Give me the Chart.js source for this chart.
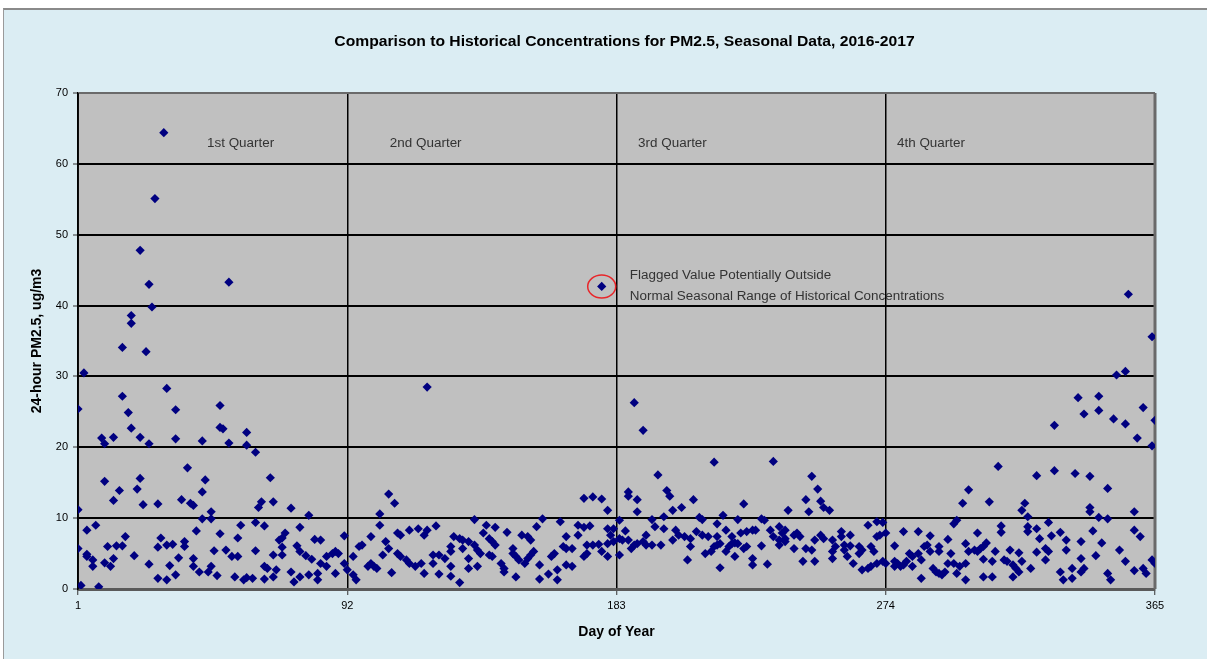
<!DOCTYPE html>
<html><head><meta charset="utf-8">
<script src="https://cdn.jsdelivr.net/npm/chart.js@4/dist/chart.umd.min.js"></script>
<style>
html,body{margin:0;padding:0;background:#fff;width:1207px;height:659px;overflow:hidden}
#frame{position:absolute;left:3px;top:8px;width:1210px;height:660px;background:#dbedf3;border-left:1px solid #9a9a9a;border-top:2px solid #8a8a8a}
#wrap{position:absolute;left:0;top:0;width:1207px;height:659px}
</style></head><body>
<div id="frame"></div>
<div id="wrap"><canvas id="c" width="1207" height="659"></canvas></div>
<script>
// ---- data: [day of year, 24-hour PM2.5 ug/m3] ----
const q1 = [[1,11.2],[1,25.4],[1,5.7],[2,0.5],[3,30.5],[4,8.3],[4,4.9],[4,4.6],[6,4.1],[6,3.2],[7,9.0],[8,0.3],[9,21.3],[10,20.5],[10,15.2],[10,3.7],[11,6.0],[12,3.2],[13,21.4],[13,12.5],[13,4.3],[14,6.1],[15,13.9],[16,34.1],[16,27.2],[16,6.1],[17,7.4],[18,24.9],[19,38.6],[19,37.5],[19,22.7],[20,4.7],[21,14.1],[22,47.8],[22,21.4],[22,15.6],[23,11.9],[24,33.5],[25,43.0],[25,20.5],[25,3.5],[26,39.8],[27,55.1],[28,12.0],[28,5.9],[28,1.5],[29,7.2],[30,64.4],[31,28.3],[31,6.2],[31,1.3],[32,3.3],[33,6.3],[34,25.3],[34,21.2],[34,2.0],[35,4.4],[36,12.6],[37,6.7],[37,6.0],[38,17.1],[39,12.1],[40,11.8],[40,4.3],[40,3.2],[41,8.2],[42,2.4],[43,20.9],[43,13.7],[43,9.9],[44,15.4],[45,2.4],[46,10.9],[46,9.9],[46,3.2],[47,5.4],[48,1.9],[49,25.9],[49,22.8],[49,7.8],[50,22.6],[51,5.5],[52,43.3],[52,20.6],[53,4.6],[54,1.7],[55,7.2],[55,4.6],[56,9.0],[57,1.3],[58,22.1],[58,20.3],[58,1.6],[60,1.5],[61,19.3],[61,9.4],[61,5.4],[62,11.5],[63,12.3],[64,8.9],[64,3.2],[64,1.4],[65,2.9],[66,15.7],[67,12.3],[67,4.8],[67,1.7],[68,2.7],[69,6.9],[70,7.2],[70,5.9],[70,4.8],[71,7.9],[73,11.4],[73,2.4],[74,1.0],[75,6.1],[76,8.7],[76,5.3],[76,1.7],[78,4.7],[79,10.4],[79,2.0],[80,4.2],[81,7.0],[82,2.2],[82,1.3],[83,6.9],[83,3.6],[85,4.6],[85,3.2],[87,5.0],[88,5.3],[88,2.2],[89,5.0],[91,7.5],[91,3.6]];
const q2 = [[92,2.7],[94,4.6],[94,2.0],[95,1.3],[96,6.0],[97,6.2],[99,3.2],[100,3.6],[100,7.4],[101,3.2],[102,2.9],[103,9.0],[103,10.6],[104,4.8],[105,6.7],[106,13.4],[106,5.7],[107,2.3],[108,12.1],[109,7.9],[109,5.0],[110,7.6],[110,4.6],[112,4.1],[113,8.3],[113,3.6],[115,3.2],[116,8.5],[117,3.6],[118,7.6],[118,2.2],[119,8.3],[119,28.5],[121,4.8],[121,3.6],[122,8.9],[123,4.8],[123,2.1],[125,4.3],[127,6.0],[127,5.3],[127,3.2],[127,1.8],[128,7.4],[130,7.1],[130,0.9],[131,6.9],[131,5.7],[133,6.7],[133,4.3],[133,2.9],[135,9.8],[135,6.2],[136,5.5],[136,3.2],[137,5.0],[138,7.9],[139,9.0],[140,7.1],[140,4.8],[141,6.7],[141,4.6],[142,8.7],[142,6.2],[144,3.6],[145,2.9],[145,2.4],[146,8.0],[148,5.7],[148,5.0],[149,4.6],[149,1.7],[150,4.1],[151,7.6],[152,3.6],[153,7.4],[153,4.3],[154,6.9],[154,4.8],[155,5.3],[156,8.8],[157,3.4],[157,1.4],[158,9.9],[160,2.1],[161,4.6],[162,5.0],[163,2.7],[163,1.3],[164,9.5],[165,6.0],[166,7.4],[166,5.7],[166,3.4],[168,5.7],[168,3.2],[170,9.0],[170,7.6],[172,12.8],[172,8.7],[172,4.6],[173,6.2],[173,5.0],[174,8.9],[175,13.0],[175,6.2],[177,6.3],[178,12.7],[178,5.3],[180,11.1],[180,8.5],[180,6.4],[180,4.6],[181,7.6],[182,8.5],[182,6.7]];
const q3 = [[184,9.7],[184,7.1],[184,4.8],[185,6.9],[186,8.2],[187,13.7],[187,13.1],[187,6.9],[188,5.7],[189,26.3],[189,6.2],[190,12.6],[190,10.9],[190,6.4],[192,22.4],[192,6.7],[193,7.6],[193,6.2],[195,9.8],[195,6.2],[196,8.8],[197,16.1],[198,6.2],[199,10.2],[199,8.5],[200,13.9],[201,13.1],[202,11.1],[202,6.9],[203,8.3],[204,7.6],[205,11.5],[206,7.4],[207,4.1],[208,7.1],[208,6.0],[209,12.6],[210,8.1],[211,10.1],[212,9.8],[212,7.6],[213,5.0],[214,7.4],[215,5.3],[216,17.9],[216,6.0],[217,9.2],[217,7.4],[217,6.2],[218,6.4],[218,3.0],[219,10.4],[220,8.3],[220,5.3],[221,6.0],[222,7.4],[222,6.4],[223,6.5],[223,4.6],[224,9.8],[224,6.4],[225,7.9],[226,12.0],[226,5.7],[227,8.1],[227,6.0],[229,8.3],[229,4.3],[229,3.4],[230,8.3],[232,9.9],[232,6.1],[233,9.7],[234,3.5],[235,8.3],[236,18.0],[236,7.4],[238,8.8],[238,6.9],[238,6.2],[239,7.9],[240,8.3],[240,6.7],[240,7.1],[241,11.1],[243,7.6],[243,5.7],[244,7.9],[245,7.4],[246,3.9],[247,12.6],[247,5.7],[248,10.9],[249,15.9],[249,5.5],[250,6.9],[250,3.9],[251,14.1],[252,12.4],[252,7.6],[253,11.5],[253,7.1],[255,11.1],[256,6.9],[256,5.3],[256,4.3],[257,6.0],[259,8.1],[259,7.4],[260,6.2],[260,5.5],[261,4.6],[262,7.6],[262,6.1],[263,3.6],[265,5.0],[265,6.0],[266,5.5],[266,2.7],[268,9.0],[268,2.9],[269,3.2],[269,6.0],[270,5.3],[271,9.5],[271,7.4],[271,3.6],[272,7.6],[273,9.4],[273,3.9]];
const q4 = [[274,7.9],[274,3.6],[277,3.9],[277,3.2],[277,6.1],[278,3.6],[279,3.2],[280,3.4],[280,8.1],[281,3.9],[282,5.0],[283,4.6],[283,3.2],[285,8.1],[285,5.0],[286,4.1],[286,1.5],[287,6.0],[288,6.2],[289,7.5],[289,5.3],[290,2.9],[291,2.4],[292,2.2],[292,6.0],[292,5.3],[293,2.0],[294,2.4],[295,7.0],[295,3.6],[296,5.0],[297,3.6],[297,9.2],[298,2.2],[298,9.7],[299,3.2],[300,12.1],[301,3.6],[301,1.3],[301,6.4],[302,5.3],[302,14.0],[304,5.5],[305,5.3],[305,7.9],[306,5.7],[307,6.0],[307,4.2],[307,1.7],[308,6.5],[309,12.3],[310,3.9],[310,1.7],[311,5.3],[312,17.3],[313,8.9],[313,8.0],[314,4.1],[315,3.9],[316,5.5],[317,3.4],[317,1.7],[318,2.9],[319,2.4],[319,5.1],[320,3.9],[320,11.1],[321,12.1],[322,10.2],[322,8.8],[322,8.1],[323,2.9],[325,16.0],[325,8.5],[325,5.2],[326,7.1],[328,5.7],[328,4.1],[329,5.3],[329,9.4],[330,7.5],[331,23.1],[331,16.7],[333,8.0],[333,2.4],[334,1.3],[335,6.9],[335,5.5],[337,2.9],[337,1.5],[338,16.3],[339,27.0],[340,6.7],[340,4.3],[340,2.4],[341,24.7],[341,2.9],[343,15.9],[343,11.5],[343,10.9],[344,8.2],[345,4.7],[346,27.2],[346,25.2],[346,10.1],[347,6.5],[349,14.2],[349,9.9],[349,2.2],[350,1.3],[351,24.0],[352,30.2],[353,5.5],[355,30.7],[355,23.3],[355,3.9],[356,41.6],[358,10.9],[358,8.3],[358,2.6],[359,21.3],[360,7.4],[361,25.6],[361,2.9],[362,2.2],[364,35.6],[364,20.2],[364,4.1],[365,23.8],[365,3.6]];
const flagged = [178, 42.7];
const xTickValues = [1, 92, 183, 274, 365];
const quarterNames = ['1st Quarter', '2nd Quarter', '3rd Quarter', '4th Quarter'];
const flagText = ['Flagged Value Potentially Outside', 'Normal Seasonal Range of Historical Concentrations'];
const titleText = 'Comparison to Historical Concentrations for PM2.5, Seasonal Data, 2016-2017';

// ---- annotation placement (data units) ----
const quarterLabelAt = {days: [44.6, 106.4, 190.3, 277.8], value: 62.9};
const flagTextAt = {day: 187.5, values: [44.2, 41.3]};

const FONT = 'Liberation Sans';
const STRETCH = 1.12;
const points = q1.concat(q2, [flagged], q3, q4).map(p => ({x: p[0], y: p[1]}));

function stretchedText(ctx, text, x, y, align) {
  ctx.save();
  ctx.translate(x, y);
  ctx.scale(STRETCH, 1);
  ctx.textAlign = align;
  ctx.fillText(text, 0, 0);
  ctx.restore();
}

const bgPlugin = {
  id: 'bg',
  beforeDraw(chart) {
    const {ctx, chartArea: a} = chart;
    ctx.save();
    ctx.fillStyle = '#c0c0c0';
    ctx.fillRect(a.left, a.top, a.right - a.left, a.bottom - a.top);
    ctx.fillStyle = '#000';
    ctx.font = 'bold 14px "' + FONT + '"';
    ctx.textBaseline = 'middle';
    stretchedText(ctx, titleText, (a.left + a.right) / 2 + 8, 42.5, 'center');
    ctx.restore();
  },
  beforeDatasetsDraw(chart) {
    const {ctx, chartArea: a} = chart;
    ctx.save();
    ctx.strokeStyle = '#6a6a6a';
    ctx.lineWidth = 2;
    ctx.beginPath();
    ctx.moveTo(a.left, a.top); ctx.lineTo(a.right, a.top);
    ctx.stroke();
    ctx.lineWidth = 3;
    ctx.beginPath();
    ctx.moveTo(a.right, a.top); ctx.lineTo(a.right, a.bottom);
    ctx.stroke();
    ctx.strokeStyle = '#000';
    ctx.lineWidth = 1.5;
    ctx.beginPath();
    ctx.moveTo(a.left, a.top); ctx.lineTo(a.left, a.bottom);
    ctx.stroke();
    ctx.restore();
  },
  afterDatasetsDraw(chart) {
    const {ctx, scales: {x, y}} = chart;
    ctx.save();
    ctx.fillStyle = '#333';
    ctx.font = '12px "' + FONT + '"';
    ctx.textBaseline = 'middle';
    quarterNames.forEach((n, i) => {
      stretchedText(ctx, n, x.getPixelForValue(quarterLabelAt.days[i]), y.getPixelForValue(quarterLabelAt.value), 'left');
    });
    flagText.forEach((t, i) => {
      stretchedText(ctx, t, x.getPixelForValue(flagTextAt.day), y.getPixelForValue(flagTextAt.values[i]), 'left');
    });
    ctx.strokeStyle = '#e8262a';
    ctx.lineWidth = 1.5;
    ctx.beginPath();
    ctx.ellipse(x.getPixelForValue(flagged[0]), y.getPixelForValue(flagged[1]), 14, 11.5, 0, 0, Math.PI * 2);
    ctx.stroke();
    ctx.restore();
  }
};

new Chart(document.getElementById('c'), {
  type: 'scatter',
  data: {datasets: [{
    data: points,
    pointStyle: 'rectRot',
    pointRadius: 4.6,
    pointHoverRadius: 4.6,
    backgroundColor: '#000080',
    borderColor: '#000080',
    borderWidth: 0
  }]},
  options: {
    responsive: false,
    animation: false,
    events: [],
    layout: {padding: {left: 0, right: 52, top: 93, bottom: 0}},
    plugins: {
      legend: {display: false},
      tooltip: {enabled: false},
      title: {display: false}
    },
    scales: {
      x: {
        type: 'linear', min: 1, max: 365,
        afterBuildTicks: s => { s.ticks = xTickValues.map(v => ({value: v})); },
        afterFit: s => { s.height = 70; },
        ticks: {font: {family: FONT, size: 11}, color: '#000', padding: 4, maxRotation: 0, autoSkip: false, callback: v => String(v)},
        grid: {color: '#000', lineWidth: 1.5, tickLength: 6, tickColor: '#333', tickWidth: 1},
        border: {display: true, color: '#5a5a5a', width: 3},
        title: {display: true, text: 'Day of Year', color: '#000', font: {family: FONT, size: 14, weight: 'bold'}, padding: {top: 0, bottom: 18.6}}
      },
      y: {
        min: 0, max: 70,
        afterFit: s => { s.width = 78; },
        ticks: {stepSize: 10, font: {family: FONT, size: 11}, color: '#000', padding: 5},
        grid: {color: '#000', lineWidth: 2, tickLength: 5, tickColor: '#333', tickWidth: 1},
        border: {display: true, color: '#000', width: 1.5},
        title: {display: true, text: '24-hour PM2.5, ug/m3', color: '#000', font: {family: FONT, size: 14, weight: 'bold'}, padding: {top: 28.6, bottom: 0}}
      }
    }
  },
  plugins: [bgPlugin]
});
</script>
</body></html>
